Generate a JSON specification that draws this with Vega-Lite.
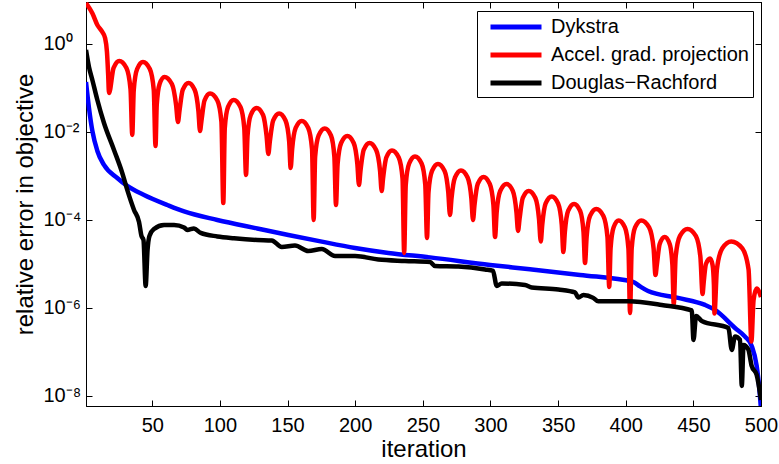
{
  "$schema": "https://vega.github.io/schema/vega-lite/v6.json",
  "width": 675,
  "height": 404,
  "autosize": {"type": "none"},
  "padding": {"left": 86, "top": 2, "right": 18, "bottom": 58},
  "background": "white",
  "config": {
    "view": {"stroke": "black", "strokeWidth": 1},
    "font": "Liberation Sans",
    "axis": {
      "domainColor": "black", "domainWidth": 1, "tickColor": "black", "tickWidth": 1,
      "labelColor": "black", "titleColor": "black", "labelFont": "Liberation Sans", "titleFont": "Liberation Sans",
      "titleFontWeight": "normal", "grid": false, "tickSize": -6, "labelFontSize": 20, "titleFontSize": 24,
      "labelFlush": false, "labelOverlap": false
    }
  },
  "data": {"values": [
    {"method": "Dykstra", "iteration": 1, "error": 0.137},
    {"method": "Dykstra", "iteration": 3.2, "error": 0.0351},
    {"method": "Dykstra", "iteration": 5.7, "error": 0.01054},
    {"method": "Dykstra", "iteration": 9.4, "error": 0.0037},
    {"method": "Dykstra", "iteration": 14.3, "error": 0.001778},
    {"method": "Dykstra", "iteration": 24.1, "error": 0.000901},
    {"method": "Dykstra", "iteration": 31.5, "error": 0.000593},
    {"method": "Dykstra", "iteration": 43.9, "error": 0.00037},
    {"method": "Dykstra", "iteration": 61.1, "error": 0.000219},
    {"method": "Dykstra", "iteration": 73.5, "error": 0.000156},
    {"method": "Dykstra", "iteration": 98.1, "error": 0.0001},
    {"method": "Dykstra", "iteration": 127.6, "error": 6.41e-5},
    {"method": "Dykstra", "iteration": 150.6, "error": 4.56e-5},
    {"method": "Dykstra", "iteration": 175.3, "error": 3.21e-5},
    {"method": "Dykstra", "iteration": 199.9, "error": 2.31e-5},
    {"method": "Dykstra", "iteration": 224.5, "error": 1.78e-5},
    {"method": "Dykstra", "iteration": 255.3, "error": 1.41e-5},
    {"method": "Dykstra", "iteration": 299.7, "error": 9.49e-6},
    {"method": "Dykstra", "iteration": 329.2, "error": 7.58e-6},
    {"method": "Dykstra", "iteration": 366.2, "error": 5.62e-6},
    {"method": "Dykstra", "iteration": 405.4, "error": 3.9e-6},
    {"method": "Dykstra", "iteration": 410.6, "error": 3.08e-6},
    {"method": "Dykstra", "iteration": 416.5, "error": 2.43e-6},
    {"method": "Dykstra", "iteration": 438.7, "error": 1.69e-6},
    {"method": "Dykstra", "iteration": 458.6, "error": 1.17e-6},
    {"method": "Dykstra", "iteration": 466.0, "error": 9.0e-7},
    {"method": "Dykstra", "iteration": 480.8, "error": 3.51e-7},
    {"method": "Dykstra", "iteration": 488.2, "error": 2.23e-7},
    {"method": "Dykstra", "iteration": 493.1, "error": 1.37e-7},
    {"method": "Dykstra", "iteration": 496.8, "error": 4.81e-8},
    {"method": "Dykstra", "iteration": 498.5, "error": 1.78e-8},
    {"method": "Dykstra", "iteration": 500, "error": 5e-9},

    {"method": "Accel. grad. projection", "iteration": 1, "error": 8.5},
    {"method": "Accel. grad. projection", "iteration": 2, "error": 7.7},
    {"method": "Accel. grad. projection", "iteration": 5.7, "error": 4.99},
    {"method": "Accel. grad. projection", "iteration": 9.4, "error": 2.7},
    {"method": "Accel. grad. projection", "iteration": 13.1, "error": 1.87},
    {"method": "Accel. grad. projection", "iteration": 15.1, "error": 1.37},
    {"method": "Accel. grad. projection", "iteration": 16.5, "error": 0.658},
    {"method": "Accel. grad. projection", "iteration": 17.4, "error": 0.197},
    {"method": "Accel. grad. projection", "iteration": 18.0, "error": 0.0769},
    {"method": "Accel. grad. projection", "iteration": 21.4, "error": 0.285},
    {"method": "Accel. grad. projection", "iteration": 25.6, "error": 0.411},
    {"method": "Accel. grad. projection", "iteration": 30.9, "error": 0.285},
    {"method": "Accel. grad. projection", "iteration": 33.9, "error": 0.0949},
    {"method": "Accel. grad. projection", "iteration": 35.2, "error": 0.00855},
    {"method": "Accel. grad. projection", "iteration": 36.3, "error": 0.0901},
    {"method": "Accel. grad. projection", "iteration": 38.8, "error": 0.27},
    {"method": "Accel. grad. projection", "iteration": 43.1, "error": 0.39},
    {"method": "Accel. grad. projection", "iteration": 48.2, "error": 0.27},
    {"method": "Accel. grad. projection", "iteration": 51.1, "error": 0.0901},
    {"method": "Accel. grad. projection", "iteration": 52.4, "error": 0.00481},
    {"method": "Accel. grad. projection", "iteration": 53.3, "error": 0.0411},
    {"method": "Accel. grad. projection", "iteration": 55.4, "error": 0.123},
    {"method": "Accel. grad. projection", "iteration": 59.0, "error": 0.178},
    {"method": "Accel. grad. projection", "iteration": 64.5, "error": 0.123},
    {"method": "Accel. grad. projection", "iteration": 67.6, "error": 0.0411},
    {"method": "Accel. grad. projection", "iteration": 69.0, "error": 0.01687},
    {"method": "Accel. grad. projection", "iteration": 70.1, "error": 0.03},
    {"method": "Accel. grad. projection", "iteration": 72.5, "error": 0.0901},
    {"method": "Accel. grad. projection", "iteration": 76.8, "error": 0.13},
    {"method": "Accel. grad. projection", "iteration": 81.4, "error": 0.0901},
    {"method": "Accel. grad. projection", "iteration": 84.1, "error": 0.03},
    {"method": "Accel. grad. projection", "iteration": 85.3, "error": 0.01054},
    {"method": "Accel. grad. projection", "iteration": 86.3, "error": 0.01733},
    {"method": "Accel. grad. projection", "iteration": 88.6, "error": 0.052},
    {"method": "Accel. grad. projection", "iteration": 92.7, "error": 0.075},
    {"method": "Accel. grad. projection", "iteration": 98.1, "error": 0.052},
    {"method": "Accel. grad. projection", "iteration": 101.1, "error": 0.01733},
    {"method": "Accel. grad. projection", "iteration": 102.5, "error": 0.000243},
    {"method": "Accel. grad. projection", "iteration": 103.6, "error": 0.01233},
    {"method": "Accel. grad. projection", "iteration": 106.0, "error": 0.037},
    {"method": "Accel. grad. projection", "iteration": 110.2, "error": 0.0533},
    {"method": "Accel. grad. projection", "iteration": 115.2, "error": 0.037},
    {"method": "Accel. grad. projection", "iteration": 118.0, "error": 0.01233},
    {"method": "Accel. grad. projection", "iteration": 119.3, "error": 0.001054},
    {"method": "Accel. grad. projection", "iteration": 120.4, "error": 0.00811},
    {"method": "Accel. grad. projection", "iteration": 122.8, "error": 0.0243},
    {"method": "Accel. grad. projection", "iteration": 127.1, "error": 0.0351},
    {"method": "Accel. grad. projection", "iteration": 131.9, "error": 0.0243},
    {"method": "Accel. grad. projection", "iteration": 134.5, "error": 0.00811},
    {"method": "Accel. grad. projection", "iteration": 135.8, "error": 0.00316},
    {"method": "Accel. grad. projection", "iteration": 136.9, "error": 0.00608},
    {"method": "Accel. grad. projection", "iteration": 139.4, "error": 0.01824},
    {"method": "Accel. grad. projection", "iteration": 143.8, "error": 0.0263},
    {"method": "Accel. grad. projection", "iteration": 148.5, "error": 0.01824},
    {"method": "Accel. grad. projection", "iteration": 151.2, "error": 0.00608},
    {"method": "Accel. grad. projection", "iteration": 152.3, "error": 0.00152},
    {"method": "Accel. grad. projection", "iteration": 153.4, "error": 0.00411},
    {"method": "Accel. grad. projection", "iteration": 156.0, "error": 0.01233},
    {"method": "Accel. grad. projection", "iteration": 160.5, "error": 0.01778},
    {"method": "Accel. grad. projection", "iteration": 165.3, "error": 0.01233},
    {"method": "Accel. grad. projection", "iteration": 168.1, "error": 0.00411},
    {"method": "Accel. grad. projection", "iteration": 169.3, "error": 0.0001},
    {"method": "Accel. grad. projection", "iteration": 170.4, "error": 0.00277},
    {"method": "Accel. grad. projection", "iteration": 173.0, "error": 0.00832},
    {"method": "Accel. grad. projection", "iteration": 177.5, "error": 0.01202},
    {"method": "Accel. grad. projection", "iteration": 182.1, "error": 0.00832},
    {"method": "Accel. grad. projection", "iteration": 184.6, "error": 0.00277},
    {"method": "Accel. grad. projection", "iteration": 185.8, "error": 0.000219},
    {"method": "Accel. grad. projection", "iteration": 187.0, "error": 0.001875},
    {"method": "Accel. grad. projection", "iteration": 189.6, "error": 0.00562},
    {"method": "Accel. grad. projection", "iteration": 194.2, "error": 0.00811},
    {"method": "Accel. grad. projection", "iteration": 198.9, "error": 0.00562},
    {"method": "Accel. grad. projection", "iteration": 201.6, "error": 0.001875},
    {"method": "Accel. grad. projection", "iteration": 202.8, "error": 0.000624},
    {"method": "Accel. grad. projection", "iteration": 203.9, "error": 0.0013},
    {"method": "Accel. grad. projection", "iteration": 206.3, "error": 0.0039},
    {"method": "Accel. grad. projection", "iteration": 210.6, "error": 0.00562},
    {"method": "Accel. grad. projection", "iteration": 215.5, "error": 0.0039},
    {"method": "Accel. grad. projection", "iteration": 218.4, "error": 0.0013},
    {"method": "Accel. grad. projection", "iteration": 219.6, "error": 0.000456},
    {"method": "Accel. grad. projection", "iteration": 220.6, "error": 0.000877},
    {"method": "Accel. grad. projection", "iteration": 223.0, "error": 0.00263},
    {"method": "Accel. grad. projection", "iteration": 227.2, "error": 0.0038},
    {"method": "Accel. grad. projection", "iteration": 232.2, "error": 0.00263},
    {"method": "Accel. grad. projection", "iteration": 235.0, "error": 0.000877},
    {"method": "Accel. grad. projection", "iteration": 236.2, "error": 1.78e-5},
    {"method": "Accel. grad. projection", "iteration": 237.4, "error": 0.000641},
    {"method": "Accel. grad. projection", "iteration": 239.9, "error": 0.00192},
    {"method": "Accel. grad. projection", "iteration": 244.2, "error": 0.00277},
    {"method": "Accel. grad. projection", "iteration": 249.1, "error": 0.00192},
    {"method": "Accel. grad. projection", "iteration": 251.8, "error": 0.000641},
    {"method": "Accel. grad. projection", "iteration": 253.1, "error": 3.9e-5},
    {"method": "Accel. grad. projection", "iteration": 254.2, "error": 0.000433},
    {"method": "Accel. grad. projection", "iteration": 256.8, "error": 0.0013},
    {"method": "Accel. grad. projection", "iteration": 261.2, "error": 0.001875},
    {"method": "Accel. grad. projection", "iteration": 266.1, "error": 0.0013},
    {"method": "Accel. grad. projection", "iteration": 268.8, "error": 0.000433},
    {"method": "Accel. grad. projection", "iteration": 270.1, "error": 0.00013},
    {"method": "Accel. grad. projection", "iteration": 271.2, "error": 0.000308},
    {"method": "Accel. grad. projection", "iteration": 273.8, "error": 0.000925},
    {"method": "Accel. grad. projection", "iteration": 278.2, "error": 0.001334},
    {"method": "Accel. grad. projection", "iteration": 283.1, "error": 0.000925},
    {"method": "Accel. grad. projection", "iteration": 285.9, "error": 0.000308},
    {"method": "Accel. grad. projection", "iteration": 287.1, "error": 0.0001},
    {"method": "Accel. grad. projection", "iteration": 288.2, "error": 0.000219},
    {"method": "Accel. grad. projection", "iteration": 290.6, "error": 0.000658},
    {"method": "Accel. grad. projection", "iteration": 294.9, "error": 0.000949},
    {"method": "Accel. grad. projection", "iteration": 299.5, "error": 0.000658},
    {"method": "Accel. grad. projection", "iteration": 302.2, "error": 0.000219},
    {"method": "Accel. grad. projection", "iteration": 303.4, "error": 4.11e-5},
    {"method": "Accel. grad. projection", "iteration": 304.6, "error": 0.000152},
    {"method": "Accel. grad. projection", "iteration": 307.2, "error": 0.000456},
    {"method": "Accel. grad. projection", "iteration": 311.9, "error": 0.000658},
    {"method": "Accel. grad. projection", "iteration": 316.5, "error": 0.000456},
    {"method": "Accel. grad. projection", "iteration": 319.2, "error": 0.000152},
    {"method": "Accel. grad. projection", "iteration": 320.4, "error": 5.62e-5},
    {"method": "Accel. grad. projection", "iteration": 321.5, "error": 0.0001054},
    {"method": "Accel. grad. projection", "iteration": 323.9, "error": 0.000316},
    {"method": "Accel. grad. projection", "iteration": 328.3, "error": 0.000456},
    {"method": "Accel. grad. projection", "iteration": 333.2, "error": 0.000316},
    {"method": "Accel. grad. projection", "iteration": 335.9, "error": 0.0001054},
    {"method": "Accel. grad. projection", "iteration": 337.2, "error": 3.24e-5},
    {"method": "Accel. grad. projection", "iteration": 338.3, "error": 7.9e-5},
    {"method": "Accel. grad. projection", "iteration": 340.8, "error": 0.000237},
    {"method": "Accel. grad. projection", "iteration": 345.3, "error": 0.000342},
    {"method": "Accel. grad. projection", "iteration": 350.0, "error": 0.000237},
    {"method": "Accel. grad. projection", "iteration": 352.7, "error": 7.9e-5},
    {"method": "Accel. grad. projection", "iteration": 353.9, "error": 1.875e-5},
    {"method": "Accel. grad. projection", "iteration": 355.0, "error": 5.33e-5},
    {"method": "Accel. grad. projection", "iteration": 357.4, "error": 0.00016},
    {"method": "Accel. grad. projection", "iteration": 361.8, "error": 0.000231},
    {"method": "Accel. grad. projection", "iteration": 366.3, "error": 0.00016},
    {"method": "Accel. grad. projection", "iteration": 368.8, "error": 5.33e-5},
    {"method": "Accel. grad. projection", "iteration": 369.9, "error": 1.054e-5},
    {"method": "Accel. grad. projection", "iteration": 371.1, "error": 4.11e-5},
    {"method": "Accel. grad. projection", "iteration": 373.6, "error": 0.0001233},
    {"method": "Accel. grad. projection", "iteration": 378.2, "error": 0.0001778},
    {"method": "Accel. grad. projection", "iteration": 383.5, "error": 0.0001233},
    {"method": "Accel. grad. projection", "iteration": 386.5, "error": 4.11e-5},
    {"method": "Accel. grad. projection", "iteration": 387.8, "error": 3.0e-6},
    {"method": "Accel. grad. projection", "iteration": 388.8, "error": 2.25e-5},
    {"method": "Accel. grad. projection", "iteration": 391.0, "error": 6.76e-5},
    {"method": "Accel. grad. projection", "iteration": 394.8, "error": 9.75e-5},
    {"method": "Accel. grad. projection", "iteration": 399.4, "error": 6.76e-5},
    {"method": "Accel. grad. projection", "iteration": 402.0, "error": 2.25e-5},
    {"method": "Accel. grad. projection", "iteration": 403.2, "error": 7.69e-7},
    {"method": "Accel. grad. projection", "iteration": 404.4, "error": 2.25e-5},
    {"method": "Accel. grad. projection", "iteration": 406.9, "error": 6.76e-5},
    {"method": "Accel. grad. projection", "iteration": 411.5, "error": 9.75e-5},
    {"method": "Accel. grad. projection", "iteration": 417.3, "error": 6.76e-5},
    {"method": "Accel. grad. projection", "iteration": 420.6, "error": 2.25e-5},
    {"method": "Accel. grad. projection", "iteration": 422.0, "error": 5.62e-6},
    {"method": "Accel. grad. projection", "iteration": 423.0, "error": 9.49e-6},
    {"method": "Accel. grad. projection", "iteration": 425.1, "error": 2.85e-5},
    {"method": "Accel. grad. projection", "iteration": 428.8, "error": 4.11e-5},
    {"method": "Accel. grad. projection", "iteration": 432.5, "error": 2.85e-5},
    {"method": "Accel. grad. projection", "iteration": 434.5, "error": 9.49e-6},
    {"method": "Accel. grad. projection", "iteration": 435.5, "error": 1.2e-6},
    {"method": "Accel. grad. projection", "iteration": 436.9, "error": 1.44e-5},
    {"method": "Accel. grad. projection", "iteration": 440.1, "error": 4.33e-5},
    {"method": "Accel. grad. projection", "iteration": 445.7, "error": 6.24e-5},
    {"method": "Accel. grad. projection", "iteration": 451.8, "error": 4.33e-5},
    {"method": "Accel. grad. projection", "iteration": 455.2, "error": 1.44e-5},
    {"method": "Accel. grad. projection", "iteration": 456.8, "error": 2.08e-6},
    {"method": "Accel. grad. projection", "iteration": 457.6, "error": 3.7e-6},
    {"method": "Accel. grad. projection", "iteration": 459.3, "error": 1.0e-5},
    {"method": "Accel. grad. projection", "iteration": 462.3, "error": 1.33e-5},
    {"method": "Accel. grad. projection", "iteration": 464.2, "error": 9.49e-6},
    {"method": "Accel. grad. projection", "iteration": 465.2, "error": 3.33e-6},
    {"method": "Accel. grad. projection", "iteration": 465.6, "error": 7.5e-7},
    {"method": "Accel. grad. projection", "iteration": 467.4, "error": 7.5e-6},
    {"method": "Accel. grad. projection", "iteration": 471.3, "error": 2.25e-5},
    {"method": "Accel. grad. projection", "iteration": 478.1, "error": 3.24e-5},
    {"method": "Accel. grad. projection", "iteration": 486.2, "error": 2.25e-5},
    {"method": "Accel. grad. projection", "iteration": 490.8, "error": 7.5e-6},
    {"method": "Accel. grad. projection", "iteration": 492.9, "error": 1.73e-7},
    {"method": "Accel. grad. projection", "iteration": 494.5, "error": 1.52e-6},
    {"method": "Accel. grad. projection", "iteration": 496.8, "error": 2.77e-6},
    {"method": "Accel. grad. projection", "iteration": 500, "error": 1.78e-6},

    {"method": "Douglas−Rachford", "iteration": 1, "error": 0.731},
    {"method": "Douglas−Rachford", "iteration": 3.2, "error": 0.3},
    {"method": "Douglas−Rachford", "iteration": 5.7, "error": 0.152},
    {"method": "Douglas−Rachford", "iteration": 9.4, "error": 0.0533},
    {"method": "Douglas−Rachford", "iteration": 14.3, "error": 0.016},
    {"method": "Douglas−Rachford", "iteration": 21.7, "error": 0.0039},
    {"method": "Douglas−Rachford", "iteration": 27.8, "error": 0.00117},
    {"method": "Douglas−Rachford", "iteration": 31.5, "error": 0.000481},
    {"method": "Douglas−Rachford", "iteration": 36.5, "error": 0.000169},
    {"method": "Douglas−Rachford", "iteration": 40.2, "error": 9.01e-5},
    {"method": "Douglas−Rachford", "iteration": 42.0, "error": 4.33e-5},
    {"method": "Douglas−Rachford", "iteration": 43.5, "error": 3.51e-5},
    {"method": "Douglas−Rachford", "iteration": 45.1, "error": 3.16e-6},
    {"method": "Douglas−Rachford", "iteration": 46.5, "error": 2.08e-5},
    {"method": "Douglas−Rachford", "iteration": 47.9, "error": 4.33e-5},
    {"method": "Douglas−Rachford", "iteration": 51.3, "error": 6.24e-5},
    {"method": "Douglas−Rachford", "iteration": 58.7, "error": 7.69e-5},
    {"method": "Douglas−Rachford", "iteration": 66.1, "error": 7.69e-5},
    {"method": "Douglas−Rachford", "iteration": 73.5, "error": 6.76e-5},
    {"method": "Douglas−Rachford", "iteration": 75.9, "error": 5.93e-5},
    {"method": "Douglas−Rachford", "iteration": 80.8, "error": 6.41e-5},
    {"method": "Douglas−Rachford", "iteration": 85.8, "error": 5.07e-5},
    {"method": "Douglas−Rachford", "iteration": 98.1, "error": 4.22e-5},
    {"method": "Douglas−Rachford", "iteration": 110.4, "error": 3.84e-5},
    {"method": "Douglas−Rachford", "iteration": 127.6, "error": 3.51e-5},
    {"method": "Douglas−Rachford", "iteration": 138.3, "error": 3.42e-5},
    {"method": "Douglas−Rachford", "iteration": 145.7, "error": 2.43e-5},
    {"method": "Douglas−Rachford", "iteration": 155.5, "error": 2.63e-5},
    {"method": "Douglas−Rachford", "iteration": 165.3, "error": 1.97e-5},
    {"method": "Douglas−Rachford", "iteration": 175.3, "error": 2.19e-5},
    {"method": "Douglas−Rachford", "iteration": 185.1, "error": 1.52e-5},
    {"method": "Douglas−Rachford", "iteration": 199.9, "error": 1.52e-5},
    {"method": "Douglas−Rachford", "iteration": 217.1, "error": 1.26e-5},
    {"method": "Douglas−Rachford", "iteration": 236.8, "error": 1.17e-5},
    {"method": "Douglas−Rachford", "iteration": 255.3, "error": 1.11e-5},
    {"method": "Douglas−Rachford", "iteration": 259.0, "error": 9.01e-6},
    {"method": "Douglas−Rachford", "iteration": 276.2, "error": 8.77e-6},
    {"method": "Douglas−Rachford", "iteration": 296.0, "error": 7.5e-6},
    {"method": "Douglas−Rachford", "iteration": 301.9, "error": 6.93e-6},
    {"method": "Douglas−Rachford", "iteration": 304.6, "error": 3.16e-6},
    {"method": "Douglas−Rachford", "iteration": 308.3, "error": 3.6e-6},
    {"method": "Douglas−Rachford", "iteration": 325.6, "error": 3.33e-6},
    {"method": "Douglas−Rachford", "iteration": 330.5, "error": 2.92e-6},
    {"method": "Douglas−Rachford", "iteration": 350.2, "error": 2.63e-6},
    {"method": "Douglas−Rachford", "iteration": 362.5, "error": 2.25e-6},
    {"method": "Douglas−Rachford", "iteration": 365.0, "error": 1.73e-6},
    {"method": "Douglas−Rachford", "iteration": 368.7, "error": 1.97e-6},
    {"method": "Douglas−Rachford", "iteration": 376.0, "error": 1.69e-6},
    {"method": "Douglas−Rachford", "iteration": 379.7, "error": 1.41e-6},
    {"method": "Douglas−Rachford", "iteration": 401.9, "error": 1.41e-6},
    {"method": "Douglas−Rachford", "iteration": 426.6, "error": 1.17e-6},
    {"method": "Douglas−Rachford", "iteration": 448.8, "error": 8.77e-7},
    {"method": "Douglas−Rachford", "iteration": 450.1, "error": 1.875e-7},
    {"method": "Douglas−Rachford", "iteration": 452.0, "error": 6.58e-7},
    {"method": "Douglas−Rachford", "iteration": 456.2, "error": 5.07e-7},
    {"method": "Douglas−Rachford", "iteration": 475.9, "error": 3.51e-7},
    {"method": "Douglas−Rachford", "iteration": 478.4, "error": 1.11e-7},
    {"method": "Douglas−Rachford", "iteration": 480.8, "error": 2.25e-7},
    {"method": "Douglas−Rachford", "iteration": 484.5, "error": 1.875e-7},
    {"method": "Douglas−Rachford", "iteration": 485.8, "error": 1.69e-8},
    {"method": "Douglas−Rachford", "iteration": 487.1, "error": 1.44e-7},
    {"method": "Douglas−Rachford", "iteration": 490.6, "error": 1.14e-7},
    {"method": "Douglas−Rachford", "iteration": 493.1, "error": 4.81e-8},
    {"method": "Douglas−Rachford", "iteration": 496.8, "error": 3.0e-8},
    {"method": "Douglas−Rachford", "iteration": 500, "error": 8.1e-9}
  ]},
  "layer": [
    {
      "mark": {"type": "line", "interpolate": "monotone", "strokeWidth": 4.5, "clip": true},
      "encoding": {
        "x": {
          "field": "iteration", "type": "quantitative",
          "scale": {"domain": [1, 500], "nice": false, "zero": false},
          "axis": {
            "orient": "bottom", "values": [50, 100, 150, 200, 250, 300, 350, 400, 450, 500],
            "labelBaseline": "alphabetic", "labelPadding": 31,
            "title": "iteration", "titleY": 50, "titleBaseline": "alphabetic"
          }
        },
        "y": {
          "field": "error", "type": "quantitative",
          "scale": {"type": "log", "domain": [5.9e-9, 9], "nice": false},
          "axis": {
            "orient": "left", "values": [1e-8, 1e-6, 1e-4, 1e-2, 1],
            "labelExpr": "datum.value >= 0.5 ? '10⁰' : datum.value >= 0.005 ? '10⁻²' : datum.value >= 5e-5 ? '10⁻⁴' : datum.value >= 5e-7 ? '10⁻⁶' : '10⁻⁸'",
            "labelAlign": "left", "labelBaseline": "middle", "labelPadding": 49,
            "title": "relative error in objective", "titleX": -54, "titleY": 202,
            "titleAngle": 270, "titleBaseline": "alphabetic", "titleAlign": "center"
          }
        },
        "color": {
          "field": "method", "type": "nominal",
          "scale": {"domain": ["Dykstra", "Accel. grad. projection", "Douglas−Rachford"], "range": ["#0000ff", "#ff0000", "#000000"]},
          "legend": {
            "orient": "none", "legendX": 391, "legendY": 9, "title": null,
            "symbolType": "M-0.25,0H4.85", "symbolSize": 400, "symbolStrokeWidth": 5,
            "labelFontSize": 20, "labelFont": "Liberation Sans", "labelColor": "black", "labelLimit": 400,
            "strokeColor": "black", "fillColor": "white", "padding": 3.5, "rowPadding": 5, "labelOffset": 45.5
          }
        }
      }
    },
    {
      "mark": {"type": "point", "opacity": 0},
      "encoding": {
        "x": {
          "field": "iteration", "type": "quantitative",
          "axis": {"orient": "top", "values": [50, 100, 150, 200, 250, 300, 350, 400, 450, 500], "labels": false, "title": null}
        },
        "y": {
          "field": "error", "type": "quantitative",
          "axis": {"orient": "right", "values": [1e-8, 1e-6, 1e-4, 1e-2, 1], "labels": false, "title": null}
        }
      }
    }
  ],
  "resolve": {"axis": {"x": "independent", "y": "independent"}}
}
